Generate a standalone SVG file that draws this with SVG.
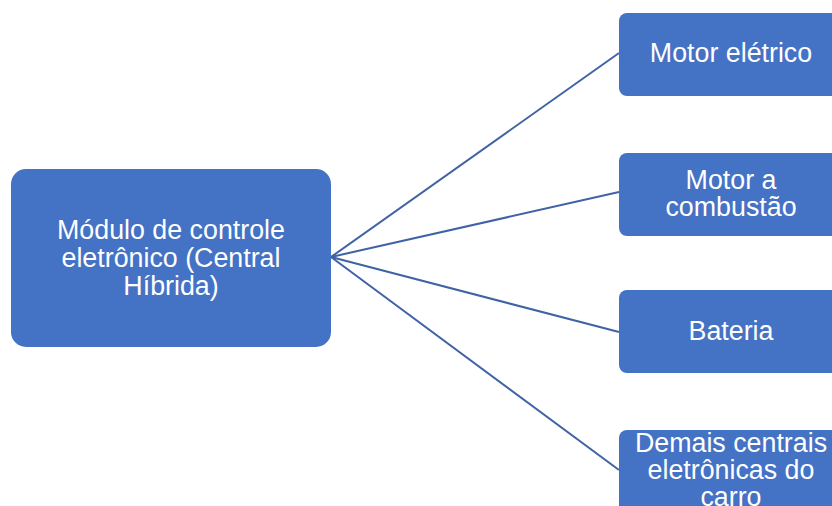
<svg xmlns="http://www.w3.org/2000/svg" width="832" height="506" viewBox="0 0 832 506">
<style>
.node{fill:#4472C4;}
.lbl{font-family:"Liberation Sans",Arial,sans-serif;font-size:26.8px;fill:#ffffff;text-anchor:middle;}
.conn{stroke:#4063A6;stroke-width:2;fill:none;}
</style>
<rect width="832" height="506" fill="#ffffff"/>
<g id="connectors">
<line class="conn" x1="331" y1="257" x2="619" y2="53"/>
<line class="conn" x1="331" y1="257" x2="619" y2="192"/>
<line class="conn" x1="331" y1="257" x2="619" y2="332"/>
<line class="conn" x1="331" y1="257" x2="619" y2="470"/>
</g>
<g id="central">
<rect class="node" x="11" y="169" width="320" height="178" rx="15"/>
<text class="lbl" x="171" y="239">Módulo de controle</text>
<text class="lbl" x="171" y="267">eletrônico (Central</text>
<text class="lbl" x="171" y="295">Híbrida)</text>
</g>
<g id="motor-eletrico">
<rect class="node" x="619" y="13" width="225" height="83" rx="8"/>
<text class="lbl" x="731" y="62">Motor elétrico</text>
</g>
<g id="motor-combustao">
<rect class="node" x="619" y="153" width="225" height="83" rx="8"/>
<text class="lbl" x="731" y="189">Motor a</text>
<text class="lbl" x="731" y="216">combustão</text>
</g>
<g id="bateria">
<rect class="node" x="619" y="290" width="225" height="83" rx="8"/>
<text class="lbl" x="731" y="340">Bateria</text>
</g>
<g id="demais">
<rect class="node" x="619" y="430" width="225" height="83" rx="8"/>
<text class="lbl" x="731" y="452">Demais centrais</text>
<text class="lbl" x="731" y="479">eletrônicas do</text>
<text class="lbl" x="731" y="506">carro</text>
</g>
</svg>
